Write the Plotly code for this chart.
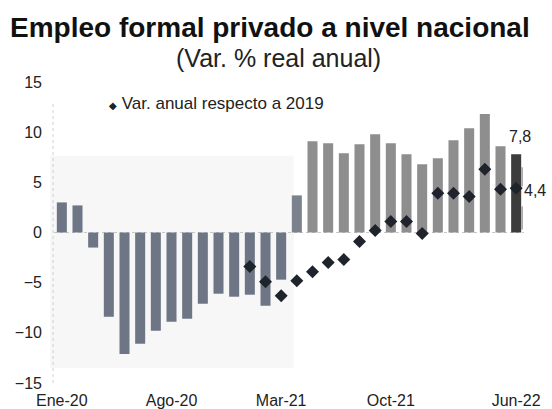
import plotly.graph_objects as go

months = ["Ene-20","Feb-20","Mar-20","Abr-20","May-20","Jun-20","Jul-20","Ago-20","Sep-20","Oct-20","Nov-20","Dic-20",
          "Ene-21","Feb-21","Mar-21","Abr-21","May-21","Jun-21","Jul-21","Ago-21","Sep-21","Oct-21","Nov-21","Dic-21",
          "Ene-22","Feb-22","Mar-22","Abr-22","May-22","Jun-22"]
var_real = [3.0, 2.7, -1.5, -8.4, -12.1, -11.1, -9.8, -8.9, -8.6, -7.1, -6.1, -6.4,
            -6.2, -7.3, -4.7, 3.7, 9.1, 8.9, 7.9, 8.8, 9.8, 8.9, 7.8, 6.8,
            7.4, 9.2, 10.4, 11.8, 8.6, 7.8]
var_2019_months = ["Ene-21","Feb-21","Mar-21","Abr-21","May-21","Jun-21","Jul-21","Ago-21","Sep-21","Oct-21",
                   "Nov-21","Dic-21","Ene-22","Feb-22","Mar-22","Abr-22","May-22","Jun-22"]
var_2019 = [-3.4, -4.9, -6.3, -4.8, -3.9, -3.0, -2.7, -0.9, 0.2, 1.1,
            1.1, -0.1, 3.9, 3.9, 3.6, 6.3, 4.3, 4.4]
tick_labels = ["Ene-20", "Ago-20", "Mar-21", "Oct-21", "Jun-22"]
y_ticks = [15, 10, 5, 0, -5, -10, -15]

n = len(months)
bar_colors = []
for i in range(n):
    if i < 15:
        bar_colors.append("#6e7686")
    elif i == 15:
        bar_colors.append("#7c828d")
    elif i == n - 1:
        bar_colors.append("#3c3c3c")
    else:
        bar_colors.append("#8e8e8e")

fig = go.Figure()
fig.add_trace(go.Bar(x=months, y=var_real, marker=dict(color=bar_colors, line=dict(width=0)),
                     showlegend=False, name="Var. % real anual"))
fig.add_trace(go.Scatter(x=var_2019_months, y=var_2019, mode="markers",
                         marker=dict(symbol="diamond", size=10, color="#1f232b"),
                         name="Var. anual respecto a 2019", showlegend=False))

# value labels
fig.add_annotation(x=months[-1], y=var_real[-1], text="7,8", showarrow=False,
                   xshift=4, yshift=18, font=dict(size=16, color="#222"))
fig.add_annotation(x=months[-1], y=var_2019[-1], text="4,4", showarrow=False,
                   xanchor="left", xshift=6, yshift=-2, font=dict(size=16, color="#222"))
# leader line beside the last bar
lx = n - 1 + 0.38
fig.add_shape(type="line", xref="x", yref="y", x0=lx, x1=lx, y0=var_2019[-1] + 0.2, y1=var_2019[-1] + 2.1,
              line=dict(color="#777", width=1))
fig.add_shape(type="line", xref="x", yref="y", x0=lx, x1=lx, y0=0.3, y1=var_2019[-1] - 1.8,
              line=dict(color="#777", width=1))

# faint scan background & dotted axis lines
fig.add_shape(type="rect", xref="paper", yref="paper", x0=-0.008, x1=0.51, y0=0.05, y1=0.755,
              fillcolor="#f7f7f7", line=dict(width=0), layer="below")
fig.add_shape(type="line", xref="paper", yref="y", x0=0, x1=1, y0=0, y1=0,
              line=dict(color="#c8c8c8", width=1, dash="dot"), layer="below")
fig.add_shape(type="line", xref="paper", yref="paper", x0=-0.002, x1=-0.002, y0=0.0, y1=0.93,
              line=dict(color="#d0d0d0", width=1, dash="dot"), layer="below")

# legend (manual)
fig.add_annotation(xref="paper", yref="paper", x=(107 - 54) / 470, y=0.93, xanchor="left", yanchor="middle",
                   text="<span style='font-size:10px'>◆</span> Var. anual respecto a 2019",
                   showarrow=False, font=dict(size=17, color="#222"))

# titles
fig.add_annotation(xref="paper", yref="paper", x=(270 - 54) / 470, y=(383 - 27.5) / 301,
                   xanchor="center", yanchor="middle", showarrow=False,
                   text="<b>Empleo formal privado a nivel nacional</b>",
                   font=dict(size=28, color="#111"))
fig.add_annotation(xref="paper", yref="paper", x=(278 - 54) / 470, y=(383 - 58) / 301,
                   xanchor="center", yanchor="middle", showarrow=False,
                   text="(Var. % real anual)", font=dict(size=25, color="#222"))

fig.update_layout(
    width=552, height=409,
    margin=dict(l=54, r=28, t=82, b=26),
    paper_bgcolor="white", plot_bgcolor="rgba(0,0,0,0)",
    font=dict(family="Liberation Sans, Arial, sans-serif", size=16, color="#222"),
    bargap=0.36,
    showlegend=False,
    xaxis=dict(type="category", categoryorder="array", categoryarray=months,
               tickmode="array", tickvals=tick_labels, ticktext=tick_labels,
               range=[-0.5, n - 0.5], showgrid=False, showline=False, zeroline=False,
               ticks="", ticklabelstandoff=6, tickfont=dict(size=16), automargin=False),
    yaxis=dict(range=[-15, 15], tickvals=y_ticks, showgrid=False, zeroline=False,
               showline=False, ticks="", ticklabelstandoff=11, tickfont=dict(size=16),
               automargin=False),
)

fig.write_html("out.html", config={"displayModeBar": False},
               post_script="document.body.style.margin='0';document.body.style.overflow='hidden';")
